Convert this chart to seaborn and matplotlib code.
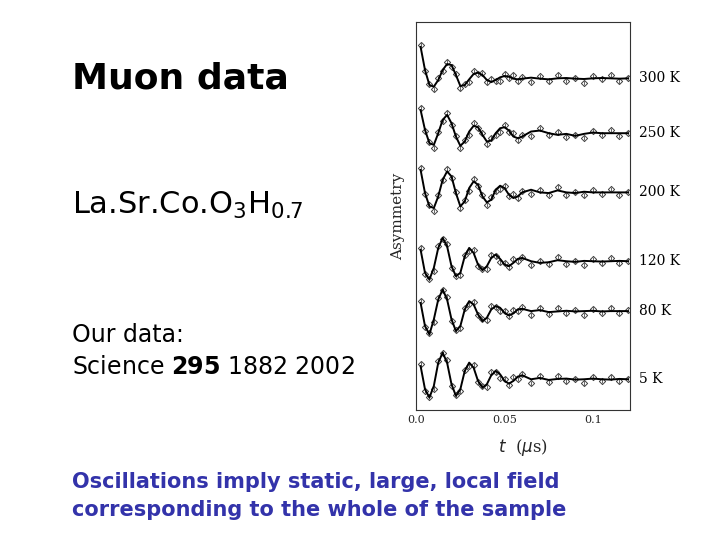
import numpy as np
import pandas as pd
import matplotlib
matplotlib.use("Agg")
import matplotlib.pyplot as plt
import matplotlib.transforms as mtrans
import seaborn as sns

sns.set_style("white")
plt.rcParams["text.color"] = "black"

temps = ["300 K", "250 K", "200 K", "120 K", "80 K", "5 K"]
baselines = [175, 340, 518, 725, 875, 1080]
t = [0.0025, 0.005, 0.0075, 0.010, 0.0125, 0.015, 0.0175, 0.020, 0.0225, 0.025, 0.0275, 0.030,
     0.0325, 0.035, 0.0375, 0.040, 0.0425, 0.045, 0.0475, 0.050, 0.0525, 0.055, 0.0575, 0.060,
     0.065, 0.070, 0.075, 0.080, 0.085, 0.090, 0.095, 0.100, 0.105, 0.110, 0.115, 0.120]
fit_300 = [80, 150, 195, 200, 180, 150, 132, 135, 165, 198, 195, 178, 162, 158, 165, 180, 186, 180,
           172, 168, 170, 176, 178, 176, 173, 176, 178, 175, 174, 176, 177, 175, 174, 175, 176, 175]
fit_250 = [270, 330, 370, 375, 340, 300, 285, 310, 350, 378, 365, 335, 318, 322, 345, 365, 362, 340,
           325, 322, 332, 350, 355, 350, 335, 332, 340, 345, 342, 348, 342, 338, 340, 340, 340, 340]
fit_200 = [450, 520, 560, 565, 530, 480, 455, 470, 520, 560, 545, 505, 485, 495, 530, 548, 540, 510,
           498, 505, 525, 535, 530, 518, 510, 518, 520, 512, 518, 520, 516, 518, 518, 518, 518, 518]
fit_120 = [690, 760, 780, 745, 685, 655, 680, 740, 770, 760, 710, 685, 700, 735, 752, 740, 715, 705,
           718, 735, 740, 730, 718, 715, 725, 730, 728, 722, 725, 727, 724, 725, 726, 725, 724, 725]
fit_80 = [850, 920, 945, 900, 840, 810, 840, 900, 935, 920, 870, 845, 855, 885, 905, 895, 870, 860,
          865, 880, 888, 882, 870, 868, 875, 872, 878, 876, 874, 876, 875, 874, 876, 875, 875, 875]
fit_5 = [1040, 1110, 1135, 1100, 1030, 1000, 1030, 1095, 1130, 1110, 1055, 1030, 1045, 1085, 1105, 1095,
         1068, 1055, 1065, 1085, 1093, 1085, 1072, 1068, 1080, 1076, 1082, 1079, 1078, 1081, 1080, 1078,
         1080, 1081, 1079, 1080]
fits = [fit_300, fit_250, fit_200, fit_120, fit_80, fit_5]
scatter_dev = [-6, 4, -3, 8, -5, 2, -7, 5, -2, 6, -4, 9, -8, 3, -5, 7, -9, 4, 10, -6, 3, -11, 6, -4,
               12, -7, 5, -10, 8, -3, 11, -6, 4, -9, 7, -2]

rows = []
for name, f in zip(temps, fits):
    for ti, fi, d in zip(t, f, scatter_dev):
        rows.append({"temp": name, "t": ti, "fit": -fi, "obs": -(fi + d)})
df = pd.DataFrame(rows)

fig = plt.figure(figsize=(7.2, 5.4), dpi=100)
ax = fig.add_axes([0.578, 0.241, 0.297, 0.718])

for name in temps:
    sub = df[df.temp == name]
    ax.errorbar(sub.t, sub.obs, yerr=8, fmt="none", ecolor="0.4", elinewidth=0.7)
    sns.scatterplot(data=sub, x="t", y="obs", ax=ax, marker="D", s=10,
                    facecolor="white", edgecolor="0.25", linewidth=0.7, legend=False)
    sns.lineplot(data=sub, x="t", y="fit", ax=ax, color="black", lw=1.4, legend=False)

ax.set_xlim(0, 0.121)
ax.set_ylim(-1172, -6)
ax.set_xticks([0.0, 0.05, 0.1])
ax.set_xticklabels(["0.0", "0.05", "0.1"], family="DejaVu Serif", fontsize=8)
ax.set_yticks([])
ax.set_xlabel("$t$  ($\\mu$s)", family="DejaVu Serif", fontsize=12, labelpad=9)
ax.set_ylabel("Asymmetry", family="DejaVu Serif", fontsize=11, labelpad=8)
for s in ax.spines.values():
    s.set_color("0.2")
    s.set_linewidth(0.8)
ax.tick_params(axis="x", direction="in", length=3)

tr = mtrans.blended_transform_factory(ax.transAxes, ax.transData)
for name, b in zip(temps, baselines):
    ax.text(1.04, -b, name, transform=tr, family="DejaVu Serif", fontsize=10, va="center")

fig.text(0.10, 0.855, "Muon data", fontsize=26, fontweight="bold", va="center")
fig.text(0.10, 0.62, "La.Sr.Co.O$_3$H$_{0.7}$", fontsize=22, va="center")
fig.text(0.10, 0.38, "Our data:", fontsize=17, va="center")
fig.text(0.10, 0.32, "Science $\\mathbf{295}$ 1882 2002", fontsize=17, va="center")
fig.text(0.10, 0.108, "Oscillations imply static, large, local field", fontsize=15,
         fontweight="bold", color="#3333aa", va="center")
fig.text(0.10, 0.055, "corresponding to the whole of the sample", fontsize=15,
         fontweight="bold", color="#3333aa", va="center")

fig.savefig("out.png", dpi=100)
